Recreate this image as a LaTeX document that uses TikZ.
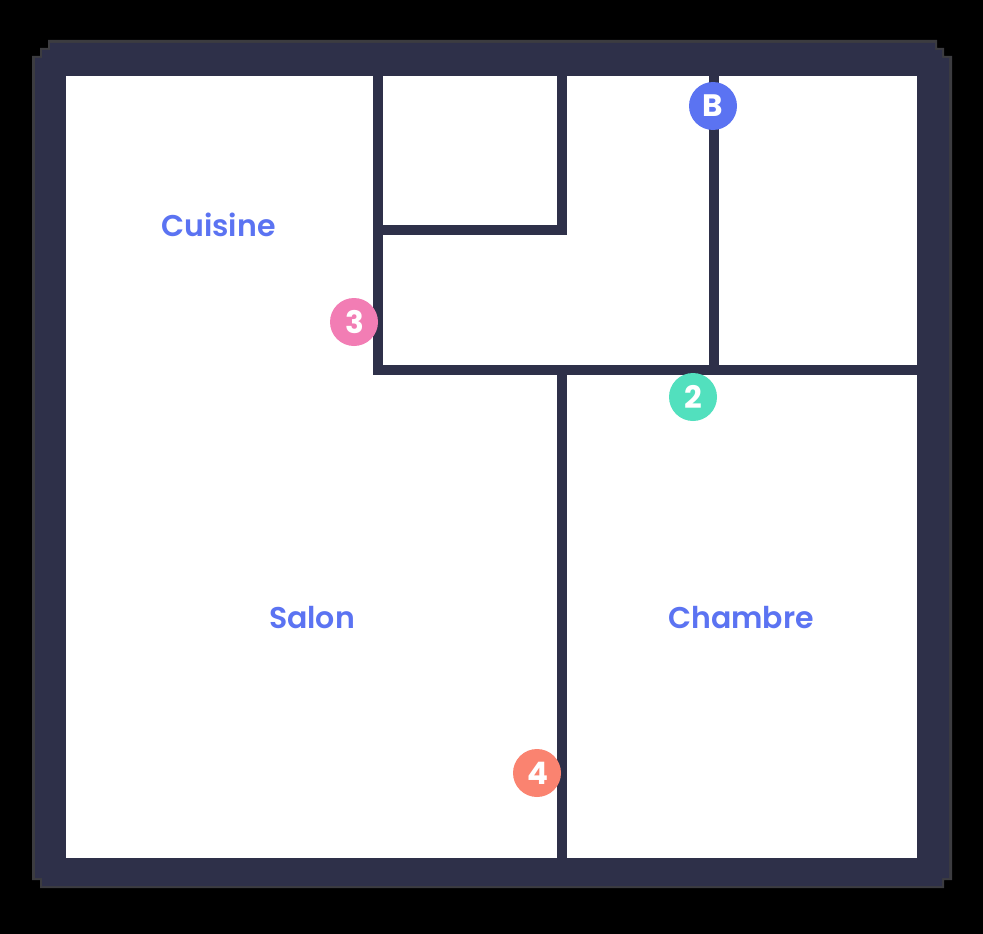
\documentclass[tikz,border=0pt]{standalone}
\usepackage{fontspec}
\setmainfont{Poppins}
\newfontfamily\semifont{Poppins SemiBold}
\definecolor{wall}{HTML}{2E3049}
\definecolor{edge}{HTML}{3C3C40}
\definecolor{labelblue}{HTML}{5B73F2}
\definecolor{pinkm}{HTML}{F27DB4}
\definecolor{greenm}{HTML}{52E0BE}
\definecolor{orangem}{HTML}{FA8370}
\tikzset{
  x=1pt,y=-1pt,
  roomlabel/.style={text=labelblue,font=\fontsize{30}{30}\selectfont\semifont,inner sep=0pt,anchor=base},
  marker/.style={circle,minimum size=48pt,inner sep=0pt,text=white,font=\fontsize{31}{31}\selectfont\bfseries},
  wallfill/.style={fill=wall,draw=none}
}
\begin{document}
\begin{tikzpicture}
\useasboundingbox (0,0) rectangle (983,934);
\fill[black] (0,0) rectangle (983,934);
% stepped outer edge
\fill[edge] (48,40) -- (937,40) -- (937,48) -- (944,48) -- (944,56) -- (952,56) -- (952,880) -- (944,880) -- (944,888) -- (40,888) -- (40,880) -- (32,880) -- (32,56) -- (40,56) -- (40,48) -- (48,48) -- cycle;
\fill[wall] (50,43) -- (935,43) -- (935,50) -- (942,50) -- (942,58) -- (949,58) -- (949,878) -- (942,878) -- (942,886) -- (42,886) -- (42,878) -- (35,878) -- (35,58) -- (42,58) -- (42,50) -- (50,50) -- cycle;
% rooms
\fill[white] (66,76) rectangle (917,858);
% inner walls
\fill[wallfill] (373,76) rectangle (383,375);
\fill[wallfill] (373,365) rectangle (917,375);
\fill[wallfill] (383,225) rectangle (567,235);
\fill[wallfill] (557,76) rectangle (567,235);
\fill[wallfill] (709,76) rectangle (719,365);
\fill[wallfill] (557,375) rectangle (567,858);
% labels
\node[roomlabel] (cuisine) at (218.5,236) {Cuisine};
\node[roomlabel] (salon) at (312,628) {Salon};
\node[roomlabel] (chambre) at (741,628) {Chambre};
% markers
\node[marker,fill=labelblue] (mb) at (713,106) {B};
\node[marker,fill=pinkm] (m3) at (354,322) {\hspace{1pt}3};
\node[marker,fill=greenm] (m2) at (693,397) {\hspace{1pt}2};
\node[marker,fill=orangem] (m4) at (537,773) {\hspace{1pt}4};
\end{tikzpicture}
\end{document}
